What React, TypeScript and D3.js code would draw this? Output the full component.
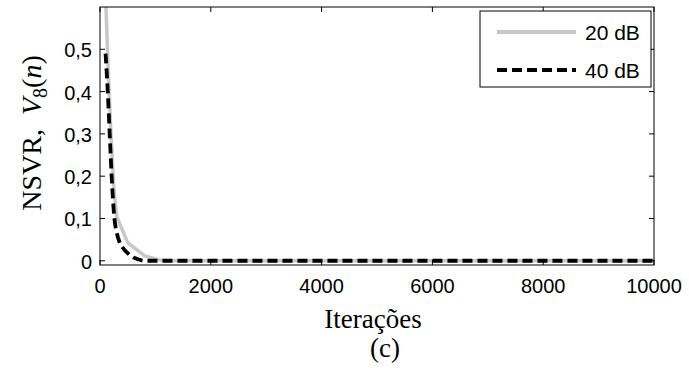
import { useEffect, useRef } from 'react';
import * as d3 from 'd3';

// 20 dB curve (light gray)
const iter20 = [100, 150, 200, 250, 300, 500, 800, 1100, 1200, 2000, 4000, 6000, 8000, 10000];
const nsvr20 = [0.63, 0.44, 0.295, 0.17, 0.105, 0.043, 0.012, 0.001, 0, 0, 0, 0, 0, 0];

// 40 dB curve (black dashed)
const iter40 = [100, 140, 175, 210, 260, 300, 350, 400, 500, 600, 700, 800, 2000, 4000, 6000, 8000, 10000];
const nsvr40 = [0.49, 0.4, 0.3, 0.2, 0.1, 0.068, 0.045, 0.033, 0.018, 0.008, 0.003, 0, 0, 0, 0, 0, 0];

const xTicks = [0, 2000, 4000, 6000, 8000, 10000];
const yTicks = [0, 0.1, 0.2, 0.3, 0.4, 0.5];
const yTickLabels = ['0', '0,1', '0,2', '0,3', '0,4', '0,5'];
const legendLabels = ['20 dB', '40 dB'];

const W = 689;
const H = 368;
const SANS = '"Liberation Sans", Arial, sans-serif';
const SERIF = '"Liberation Serif", "Times New Roman", serif';

export default function App() {
  const svgRef = useRef<SVGSVGElement>(null);

  useEffect(() => {
    if (!svgRef.current) return;
    const svg = d3.select(svgRef.current);
    svg.selectAll('*').remove();

    const left = 100;
    const right = 654;
    const top = 7;
    const bottom = 265;

    const x = d3.scaleLinear().domain([0, 10000]).range([left, right]);
    const y = d3.scaleLinear().domain([-0.01, 0.6]).range([bottom, top]);

    svg
      .append('defs')
      .append('clipPath')
      .attr('id', 'plot-clip')
      .append('rect')
      .attr('x', left)
      .attr('y', top)
      .attr('width', right - left)
      .attr('height', bottom - top);

    // curves
    const line = d3
      .line<[number, number]>()
      .x((d) => x(d[0]))
      .y((d) => y(d[1]));

    const curves = svg.append('g').attr('clip-path', 'url(#plot-clip)');
    curves
      .append('path')
      .datum(iter20.map((it, i) => [it, nsvr20[i]] as [number, number]))
      .attr('d', line)
      .attr('fill', 'none')
      .attr('stroke', '#c8c8c8')
      .attr('stroke-width', 3.5)
      .attr('stroke-linejoin', 'round');

    curves
      .append('path')
      .datum(iter40.map((it, i) => [it, nsvr40[i]] as [number, number]))
      .attr('d', line.curve(d3.curveMonotoneX))
      .attr('fill', 'none')
      .attr('stroke', '#000')
      .attr('stroke-width', 3.8)
      .attr('stroke-dasharray', '10,5');

    // box
    svg
      .append('rect')
      .attr('x', left)
      .attr('y', top)
      .attr('width', right - left)
      .attr('height', bottom - top)
      .attr('fill', 'none')
      .attr('stroke', '#000')
      .attr('stroke-width', 1);

    // x ticks (inward, bottom and top)
    const tl = 5;
    const xt = svg.append('g');
    xTicks.forEach((t) => {
      xt.append('line')
        .attr('x1', x(t)).attr('x2', x(t))
        .attr('y1', bottom).attr('y2', bottom - tl)
        .attr('stroke', '#000');
      xt.append('line')
        .attr('x1', x(t)).attr('x2', x(t))
        .attr('y1', top).attr('y2', top + tl)
        .attr('stroke', '#000');
      xt.append('text')
        .attr('x', x(t))
        .attr('y', 293)
        .attr('text-anchor', 'middle')
        .style('font-family', SANS)
        .style('font-size', '20px')
        .text(String(t));
    });

    // y ticks (inward, left and right)
    const yt = svg.append('g');
    yTicks.forEach((t, i) => {
      yt.append('line')
        .attr('x1', left).attr('x2', left + tl)
        .attr('y1', y(t)).attr('y2', y(t))
        .attr('stroke', '#000');
      yt.append('line')
        .attr('x1', right).attr('x2', right - tl)
        .attr('y1', y(t)).attr('y2', y(t))
        .attr('stroke', '#000');
      yt.append('text')
        .attr('x', 92)
        .attr('y', y(t) + 8)
        .attr('text-anchor', 'end')
        .style('font-family', SANS)
        .style('font-size', '20px')
        .text(yTickLabels[i]);
    });

    // axis titles
    svg
      .append('text')
      .attr('x', (left + right) / 2 - 4)
      .attr('y', 328)
      .attr('text-anchor', 'middle')
      .style('font-family', SERIF)
      .style('font-size', '27px')
      .text('Iterações');

    svg
      .append('text')
      .attr('x', (left + right) / 2 + 8)
      .attr('y', 357)
      .attr('text-anchor', 'middle')
      .style('font-family', SERIF)
      .style('font-size', '27px')
      .text('(c)');

    const yl = svg
      .append('text')
      .attr('transform', 'translate(41,133) rotate(-90)')
      .attr('text-anchor', 'middle')
      .style('font-family', SERIF)
      .style('font-size', '28px');
    yl.append('tspan').text('NSVR,\u00a0\u00a0');
    yl.append('tspan').style('font-style', 'italic').text('V');
    yl.append('tspan').attr('dy', 6).style('font-size', '20px').text('8');
    yl.append('tspan').attr('dy', -6).text('(');
    yl.append('tspan').style('font-style', 'italic').text('n');
    yl.append('tspan').text(')');

    // legend
    const lg = svg.append('g');
    lg.append('rect')
      .attr('x', 480)
      .attr('y', 11)
      .attr('width', 171)
      .attr('height', 76)
      .attr('fill', '#fff')
      .attr('stroke', '#000')
      .attr('stroke-width', 1);
    const rows = [
      { y: 32, stroke: '#c8c8c8', dash: null as string | null },
      { y: 70, stroke: '#000', dash: '10,5' },
    ];
    rows.forEach((r, i) => {
      lg.append('line')
        .attr('x1', 497).attr('x2', 576)
        .attr('y1', r.y).attr('y2', r.y)
        .attr('stroke', r.stroke)
        .attr('stroke-width', 3.8)
        .attr('stroke-dasharray', r.dash);
      lg.append('text')
        .attr('x', 585)
        .attr('y', r.y + 8)
        .style('font-family', SANS)
        .style('font-size', '21px')
        .text(legendLabels[i]);
    });
  }, []);

  return (
    <div style={{ position: 'fixed', left: 0, top: 0 }}>
      <svg ref={svgRef} width={W} height={H} style={{ display: 'block', background: '#fff' }} />
    </div>
  );
}
